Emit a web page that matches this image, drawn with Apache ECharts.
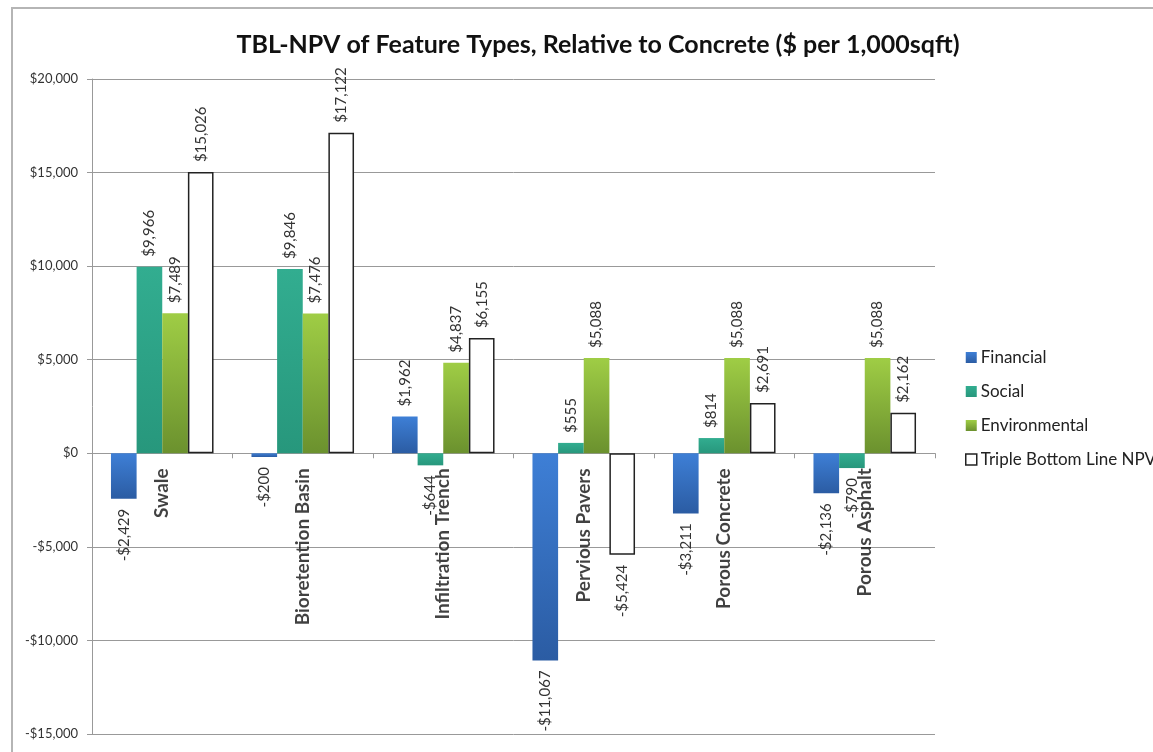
<!DOCTYPE html>
<html>
<head>
<meta charset="utf-8">
<script src="https://cdn.jsdelivr.net/npm/echarts@6/dist/echarts.min.js"></script>
<style>
  html, body { margin: 0; padding: 0; background: #fff; }
  #chart { width: 1153px; height: 752px; }
</style>
</head>
<body>
<div id="chart"></div>
<script>
// Feature types compared against a concrete baseline
const categories = ['Swale', 'Bioretention Basin', 'Infiltration Trench', 'Pervious Pavers', 'Porous Concrete', 'Porous Asphalt'];

// NPV components, $ per 1,000 sqft
const financial     = [-2429, -200, 1962, -11067, -3211, -2136];
const social        = [9966, 9846, -644, 555, 814, -790];
const environmental = [7489, 7476, 4837, 5088, 5088, 5088];
const tblNpv        = [15026, 17122, 6155, -5424, 2691, 2162];

const seriesNames = ['Financial', 'Social', 'Environmental', 'Triple Bottom Line NPV'];
const yTicks = { min: -15000, max: 20000, interval: 5000 };

const FONT = 'Lato, "Open Sans", sans-serif';

function money(v) {
  const s = '$' + Math.abs(v).toLocaleString('en-US');
  return v < 0 ? '-' + s : s;
}

function vGrad(top, bottom) {
  return new echarts.graphic.LinearGradient(0, 0, 0, 1, [
    { offset: 0, color: top },
    { offset: 1, color: bottom }
  ]);
}

const styles = [
  { color: vGrad('#3e7fd6', '#2b5ca3') },
  { color: vGrad('#32ad90', '#27977c') },
  { color: vGrad('#9fcd45', '#6b912e') },
  { color: '#ffffff', borderColor: '#222', borderWidth: 1.5 }
];

// each value gets its label outside the bar end, rotated to read upward
function withLabels(values) {
  return values.map(v => ({
    value: v,
    label: v >= 0
      ? { position: 'top', align: 'left', verticalAlign: 'middle' }
      : { position: 'bottom', align: 'right', verticalAlign: 'middle' }
  }));
}

const seriesData = [financial, social, environmental, tblNpv];

const series = seriesData.map((vals, i) => ({
  name: seriesNames[i],
  type: 'bar',
  barGap: '0%',
  barCategoryGap: '27%',
  itemStyle: styles[i],
  data: withLabels(vals),
  label: {
    show: true,
    rotate: 90,
    distance: 10,
    fontFamily: FONT,
    fontSize: 15,
    color: '#333',
    formatter: p => money(p.value)
  },
  emphasis: { disabled: true }
}));

// category names sit just under the zero line, reading upward
series.push({
  name: 'categoryNames',
  type: 'scatter',
  symbolSize: 0,
  silent: true,
  z: 5,
  data: categories.map(c => [c, 0]),
  label: {
    show: true,
    position: 'bottom',
    distance: 15,
    rotate: 90,
    align: 'right',
    verticalAlign: 'middle',
    fontFamily: FONT,
    fontWeight: 'bold',
    fontSize: 19,
    color: '#111',
    formatter: p => p.value[0]
  },
  emphasis: { disabled: true }
});

const chart = echarts.init(document.getElementById('chart'), null, { renderer: 'canvas' });

chart.setOption({
  animation: false,
  backgroundColor: '#fff',
  title: {
    text: 'TBL-NPV of Feature Types, Relative to Concrete ($ per 1,000sqft)',
    left: 593,
    textAlign: 'center',
    top: 27,
    textStyle: { fontFamily: FONT, fontWeight: 'bold', fontSize: 25, color: '#111' }
  },
  legend: {
    orient: 'vertical',
    left: 960,
    top: 344,
    itemWidth: 11,
    itemHeight: 11,
    itemGap: 17,
    icon: 'rect',
    textStyle: { fontFamily: FONT, fontSize: 17, color: '#222', padding: [0, 0, 0, -1] },
    data: seriesNames.map((n, i) => i === 3
      ? { name: n, itemStyle: { color: '#fff', borderColor: '#222', borderWidth: 1.5 } }
      : { name: n })
  },
  grid: { left: 92, right: 218, top: 79, bottom: 18, containLabel: false, outerBoundsMode: 'none' },
  xAxis: {
    type: 'category',
    data: categories,
    axisLine: { onZero: true, lineStyle: { color: '#999', width: 1 } },
    axisTick: { show: true, length: 5, lineStyle: { color: '#999' } },
    axisLabel: { show: false }
  },
  yAxis: {
    type: 'value',
    min: yTicks.min,
    max: yTicks.max,
    interval: yTicks.interval,
    axisLine: { show: true, lineStyle: { color: '#999', width: 1 } },
    axisTick: { show: true, length: 5, lineStyle: { color: '#999' } },
    axisLabel: {
      margin: 14,
      fontFamily: FONT,
      fontSize: 13,
      color: '#333',
      formatter: v => money(v)
    },
    splitLine: { show: true, lineStyle: { color: '#999', width: 1 } }
  },
  graphic: [{
    type: 'rect',
    shape: { x: 12, y: 8, width: 1200, height: 800 },
    style: { fill: 'none', stroke: '#b5b5b5', lineWidth: 2 },
    silent: true,
    z: -1
  }],
  series: series
});
</script>
</body>
</html>
